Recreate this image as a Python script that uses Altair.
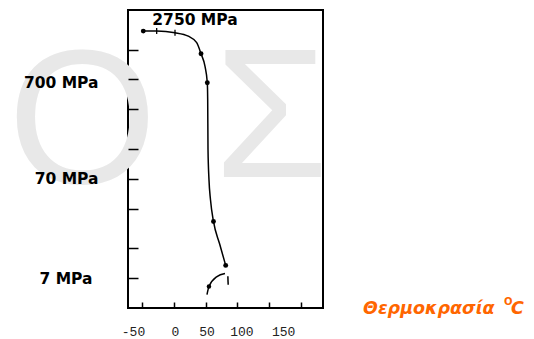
import altair as alt
import pandas as pd

# curve (temperature in °C, modulus in MPa)
main_temp = [-48.0, -26.9, 1.9, 22.8, 36.0, 42.8, 49.1, 52.7, 53.3, 53.8, 55.3, 57.7, 62.4, 72.0, 81.6]
main_mod = [2146, 2146, 2066, 1909, 1642, 1270, 945, 648, 440, 138, 69, 43, 26, 15.5, 9.4]
dot_temp = [-48.0, 42.8, 52.7, 62.4, 81.6]
dot_mod = [2146, 1270, 648, 26, 9.4]
cross_temp = [-26.9, 1.9]
cross_mod = [2146, 2066]
low_temp = [52.2, 55.3, 67.9, 80.5]
low_mod = [4.78, 5.75, 7.26, 7.78]
low_dot_temp = [55.3]
low_dot_mod = [5.75]
mark_temp = [85.0, 85.5]
mark_mod = [7.3, 6.0]

x_ticks = [-50, 0, 50, 100, 150, 200]
x_labels = ["-50", "0", "50", "100", "150", ""]
y_ticks = [7, 14, 35, 70, 140, 350, 700, 1400]
y_labels = ["7 MPa", "", "", "70 MPa", "", "", "700 MPa", ""]


def label_expr(vals, labels):
    expr = "''"
    for v, l in reversed(list(zip(vals, labels))):
        expr = f"datum.value == {v} ? '{l}' : ({expr})"
    return expr


main_df = pd.DataFrame({"t": main_temp, "m": main_mod})
dot_df = pd.DataFrame({"t": dot_temp, "m": dot_mod})
cross_df = pd.DataFrame({"t": cross_temp, "m": cross_mod})
low_df = pd.DataFrame({"t": low_temp, "m": low_mod})
low_dot_df = pd.DataFrame({"t": low_dot_temp, "m": low_dot_mod})
mark_df = pd.DataFrame({"t": mark_temp, "m": mark_mod})
one = pd.DataFrame({"a": [0]})

x_axis = alt.Axis(
    values=x_ticks, labelExpr=label_expr(x_ticks, x_labels), orient="bottom",
    offset=-6, tickSize=6, tickWidth=1.5, tickColor="black", domain=False, grid=False,
    labelFont="Liberation Mono", labelFontSize=13, labelColor="#222222", labelPadding=17,
    labelFlush=False, labelOverlap=False, title=None, zindex=1,
    labelOffset={"condition": [{"test": "datum.value == -50", "value": -9},
                               {"test": "datum.value == 100", "value": 4},
                               {"test": "datum.value == 150", "value": 14}],
                 "value": 1},
)
y_axis = alt.Axis(
    values=y_ticks, labelExpr=label_expr(y_ticks, y_labels), orient="left",
    offset=-10, tickSize=10, tickWidth=1.5, tickColor="black", domain=False, grid=False,
    labelFont="DejaVu Sans", labelFontWeight="bold", labelFontSize=15.5, labelColor="black",
    labelPadding={"condition": {"test": "datum.value == 7", "value": 36}, "value": 30},
    labelOffset={"condition": {"test": "datum.value == 700", "value": 3}, "value": 0},
    labelOverlap=False, title=None, zindex=1,
)

x_enc = alt.X("t:Q", scale=alt.Scale(domain=[-72, 234.6], nice=False, zero=False), axis=x_axis)
y_enc = alt.Y("m:Q", scale=alt.Scale(type="log", domain=[3.5, 3500], nice=False), axis=y_axis)

ORANGE = "#ff6600"


def txt(s, x, y, **kw):
    return alt.Chart(one).mark_text(text=s, **kw).encode(x=alt.value(x), y=alt.value(y))


wm_o = txt("Ο", -45.5, 173, font="Liberation Sans", fontSize=192, color="#e8e8e8",
           align="center", baseline="alphabetic")
wm_s = txt("Σ", 143, 167, font="Liberation Sans", fontSize=184, color="#e8e8e8",
           align="center", baseline="alphabetic")

curve = alt.Chart(main_df).mark_line(color="black", strokeWidth=1.5, interpolate="monotone").encode(x=x_enc, y=y_enc)
dots = alt.Chart(dot_df).mark_circle(color="black", size=24, opacity=1).encode(x=x_enc, y=y_enc)
crosses = alt.Chart(cross_df).mark_point(shape="M0,-1L0,1", size=36, stroke="black", strokeWidth=1.3,
                                         opacity=1).encode(x=x_enc, y=y_enc)
low = alt.Chart(low_df).mark_line(color="black", strokeWidth=1.5, interpolate="monotone").encode(x=x_enc, y=y_enc)
low_dot = alt.Chart(low_dot_df).mark_circle(color="black", size=20, opacity=1).encode(x=x_enc, y=y_enc)
mark = alt.Chart(mark_df).mark_line(color="black", strokeWidth=1.5).encode(x=x_enc, y=y_enc)

t2750 = txt("2750 MPa", 67, 10, font="DejaVu Sans", fontWeight="bold", fontSize=15.5,
            color="black", align="center", baseline="middle")
title_y = txt("Μέτρο ελαστικότητας (MPa)", -11, -7, font="DejaVu Sans", fontWeight="bold",
              fontSize=18, color=ORANGE, align="right", baseline="alphabetic")
t_temp = txt("Θερμοκρασία", 235, 304, font="DejaVu Sans", fontWeight="bold", fontStyle="italic",
             fontSize=17.5, color=ORANGE, align="left", baseline="alphabetic")
t_o = txt("O", 376, 295, font="DejaVu Sans", fontWeight="bold", fontSize=10,
          color=ORANGE, align="left", baseline="alphabetic")
t_c = txt("C", 383, 304, font="DejaVu Sans", fontWeight="bold", fontStyle="italic", fontSize=17.5,
          color=ORANGE, align="left", baseline="alphabetic")

chart = alt.layer(
    wm_o, wm_s, curve, dots, crosses, low, low_dot, mark, t2750, title_y, t_temp, t_o, t_c
).properties(
    width=195, height=298,
    autosize=alt.AutoSizeParams(type="none"),
    padding={"left": 120, "top": 2, "right": 203, "bottom": 30},
    background="white",
).configure_view(stroke="black", strokeWidth=2)

chart.save("out.html", embed_options={"renderer": "svg", "actions": False})
